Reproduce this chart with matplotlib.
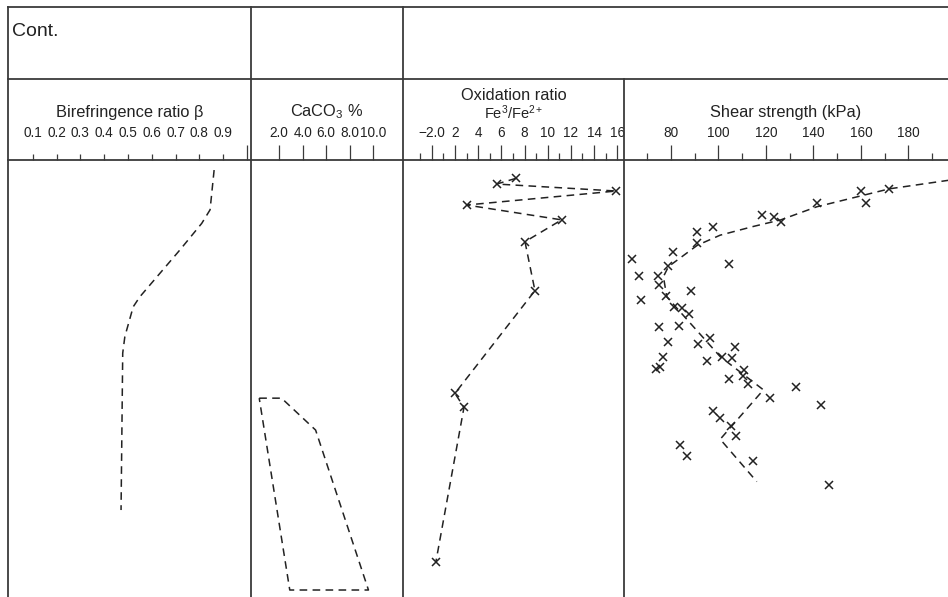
import numpy as np
import matplotlib
matplotlib.use("Agg")
from matplotlib import pyplot as plt
from matplotlib.lines import Line2D

plt.rcParams['font.family'] = ['Liberation Sans', 'DejaVu Sans']
plt.rcParams['mathtext.fontset'] = 'custom'
plt.rcParams['mathtext.rm'] = 'Liberation Sans'
plt.rcParams['mathtext.it'] = 'Liberation Sans:italic'

INK = '#222222'
FRAME = '#3a3a3a'

# depth runs downwards, arbitrary units (0 at the axis line)
bire_depth = [0.23, 1.14, 1.45, 2.06, 3.13, 3.36, 4.04, 4.42, 8.01]
bire_ratio = [0.862, 0.845, 0.810, 0.718, 0.550, 0.522, 0.487, 0.478, 0.471]

caco3_depth = [5.45, 5.45, 6.18, 9.84, 9.84, 5.45]
caco3_pct = [0.3, 2.2, 5.1, 9.6, 2.9, 0.3]

oxid_depth = [0.42, 0.55, 0.71, 1.03, 1.37, 1.87, 2.99, 5.34, 5.66, 9.19]
oxid_ratio = [7.26, 5.6, 15.9, 3.01, 11.2, 8.04, 8.9, 2.0, 2.78, 0.36]

shear_kpa = [160.0, 172.0, 162.2, 141.5, 118.3, 123.5, 126.3, 97.9, 90.9, 91.2,
             81.1, 63.6, 104.3, 79.0, 66.7, 74.5, 75.2, 88.4, 78.0, 67.4,
             81.4, 84.6, 87.8, 83.4, 75.2, 91.6, 96.5, 79.0, 107.1, 76.6,
             101.5, 105.7, 95.4, 75.5, 73.7, 110.9, 110.6, 112.7, 104.7, 132.8,
             121.8, 143.3, 97.7, 100.8, 105.4, 107.5, 83.9, 87.0, 114.5, 146.7]
shear_depth = [0.71, 0.66, 0.98, 0.99, 1.27, 1.30, 1.41, 1.54, 1.65, 1.91,
               2.10, 2.27, 2.39, 2.43, 2.65, 2.65, 2.86, 2.99, 3.11, 3.20,
               3.36, 3.38, 3.52, 3.79, 3.83, 4.22, 4.08, 4.16, 4.29, 4.50,
               4.51, 4.52, 4.59, 4.74, 4.78, 4.81, 4.94, 5.13, 5.01, 5.19,
               5.44, 5.61, 5.74, 5.91, 6.08, 6.32, 6.53, 6.77, 6.89, 7.44]
shear_trend_kpa = [200.0, 172.0, 141.5, 126.3, 114.8, 100.8, 91.2, 79.0, 76.9,
                   78.3, 83.2, 100.8, 119.0, 100.8, 116.2]
shear_trend_depth = [0.44, 0.66, 1.07, 1.37, 1.52, 1.72, 1.95, 2.44, 2.67,
                     3.13, 3.43, 4.50, 5.26, 6.39, 7.36]

bire_ticks = [0.1, 0.2, 0.3, 0.4, 0.5, 0.6, 0.7, 0.8, 0.9]
bire_long = [0.5, 1.0]
caco3_ticks = [2, 4, 6, 8, 10]
caco3_labels = ['2.0', '4.0', '6.0', '8.0', '10.0']
oxid_ticks = [0, 2, 4, 6, 8, 10, 12, 14, 16]
oxid_labels = ['\u22122.0', '2', '4', '6', '8', '10', '12', '14', '16']
oxid_minor = [-1, 1, 3, 5, 7, 9, 11, 13, 15]
shear_ticks = [80, 100, 120, 140, 160, 180]
shear_minor = [70, 90, 110, 130, 150, 170, 190]

W, H = 948, 597
fig = plt.figure(figsize=(W / 100, H / 100), dpi=100)

top_px = 160
panels = [(8, 251), (251, 403), (403, 624), (624, 948)]


def make_ax(x0, x1):
    ax = fig.add_axes([x0 / W, 0, (x1 - x0) / W, 1 - top_px / H])
    for s in ['left', 'right', 'bottom']:
        ax.spines[s].set_visible(False)
    ax.spines['top'].set_color(FRAME)
    ax.spines['top'].set_linewidth(1.3)
    ax.set_ylim(10, 0)
    ax.set_yticks([])
    ax.xaxis.tick_top()
    ax.tick_params(axis='x', which='both', direction='out', color=FRAME,
                   width=0.9, labelsize=9.8, labelcolor=INK)
    ax.patch.set_visible(False)
    return ax


dash = dict(color=INK, lw=1.1, linestyle=(0, (5, 3.5)))
mark = dict(marker='x', ms=6, mew=1.1, color=INK, linestyle='none')

# birefringence
ax1 = make_ax(*panels[0])
ax1.set_xlim(-0.004, 1.017)
ax1.set_xticks(bire_ticks)
ax1.set_xticklabels([f'{t:.1f}' for t in bire_ticks])
ax1.set_xticks(bire_long, minor=True)
ax1.tick_params(axis='x', which='major', length=4.3, pad=10)
ax1.tick_params(axis='x', which='minor', length=10.8)
ax1.plot(bire_ratio, bire_depth, **dash)

# CaCO3
ax2 = make_ax(*panels[1])
ax2.set_xlim(-0.4, 12.54)
ax2.set_xticks(caco3_ticks)
ax2.set_xticklabels(caco3_labels)
ax2.tick_params(axis='x', which='major', length=10.8, pad=3.5)
ax2.plot(caco3_pct, caco3_depth, **dash)

# oxidation ratio
ax3 = make_ax(*panels[2])
ax3.set_xlim(-2.48, 16.58)
ax3.set_xticks(oxid_ticks)
ax3.set_xticklabels(oxid_labels)
ax3.set_xticks(oxid_minor, minor=True)
ax3.tick_params(axis='x', which='major', length=10.8, pad=3.5)
ax3.tick_params(axis='x', which='minor', length=5)
ax3.plot(oxid_ratio, oxid_depth, **dash)
ax3.plot(oxid_ratio, oxid_depth, **mark)

# shear strength
ax4 = make_ax(*panels[3])
ax4.set_xlim(60.3, 196.7)
ax4.set_xticks(shear_ticks)
ax4.set_xticks(shear_minor, minor=True)
ax4.tick_params(axis='x', which='major', length=10.8, pad=3.5)
ax4.tick_params(axis='x', which='minor', length=5)
ax4.plot(shear_trend_kpa, shear_trend_depth, **dash)
ax4.plot(shear_kpa, shear_depth, **mark)

# frame lines of the table
def fline(xs, ys):
    fig.add_artist(Line2D([x / W for x in xs], [1 - y / H for y in ys],
                          color=FRAME, lw=1.3))

fline([8, W], [7, 7])
fline([8, W], [79, 79])
for x in (8, 251, 403):
    fline([x, x], [7, H])
fline([624, 624], [79, H])

fig.text(12 / W, 1 - 31 / H, 'Cont.', fontsize=14, color=INK, va='center')

title_y = 1 - 112 / H
fig.text((8 + 251) / 2 / W, title_y, 'Birefringence ratio \u03b2',
         ha='center', va='center', fontsize=11.8, color=INK)
fig.text((251 + 403) / 2 / W, title_y, 'CaCO$_3$ %',
         ha='center', va='center', fontsize=11.8, color=INK)
fig.text((403 + 624) / 2 / W, 1 - 99.5 / H, 'Oxidation ratio',
         ha='center', va='baseline', fontsize=11.8, color=INK)
fig.text((403 + 624) / 2 / W, 1 - 103.5 / H, 'Fe$^3$/Fe$^{2+}$',
         ha='center', va='top', fontsize=10.5, color=INK)
fig.text((624 + W) / 2 / W, title_y, 'Shear strength (kPa)',
         ha='center', va='center', fontsize=11.8, color=INK)

fig.savefig('out.png', dpi=100)
